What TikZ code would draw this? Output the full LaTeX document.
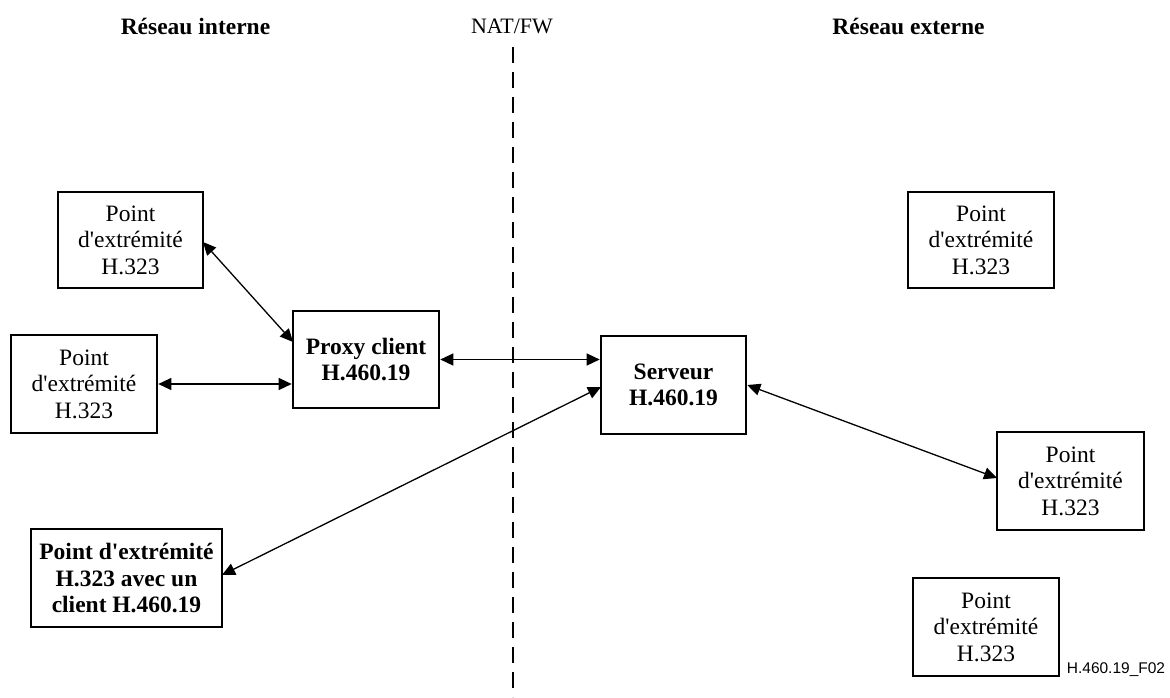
\documentclass[tikz,border=0pt]{standalone}
\usepackage{fontspec}
\setmainfont{Liberation Serif}[Ligatures=TeXOff]
\setsansfont{Liberation Sans}
\usetikzlibrary{arrows.meta}
\begin{document}
\begin{tikzpicture}[x=1pt,y=-1pt,
  box/.style={draw, line width=2.6pt, align=center, inner sep=0pt,
    font=\fontsize{23.5}{26.5}\selectfont},
  bbox/.style={box, font=\fontsize{23.5}{26.5}\selectfont\bfseries},
  conn/.style={line width=1.3pt, {Triangle[length=13pt,width=12pt]}-{Triangle[length=13pt,width=12pt]}},
  title/.style={font=\fontsize{23.5}{26}\selectfont\bfseries, inner sep=0pt}]
\useasboundingbox (0,0) rectangle (1170,697);
\node[title] (ti) at (195.5,26) {Réseau interne};
\node[title] (te) at (908.5,26) {Réseau externe};
\node[font=\fontsize{22}{24}\selectfont, inner sep=0pt] (nat) at (512,26) {NAT/FW};
\coordinate (dtop) at (513,47);
\coordinate (dbot) at (513,697);
\draw[line width=2.8pt, dash pattern=on 16pt off 9pt] (dtop) -- (dbot);

\node[box, minimum width=145pt, minimum height=96pt] (ep1) at (130.5,240) {Point\\d'extrémité\\H.323};
\node[box, minimum width=146pt, minimum height=98pt] (ep2) at (84,384) {Point\\d'extrémité\\H.323};
\node[bbox, minimum width=146pt, minimum height=97pt] (proxy) at (366,359.5) {Proxy client\\H.460.19};
\node[bbox, minimum width=191pt, minimum height=98pt] (bl) at (126.5,578) {Point d'extrémité\\H.323 avec un\\client H.460.19};
\node[bbox, minimum width=145pt, minimum height=98pt] (srv) at (673.5,385) {Serveur\\H.460.19};
\node[box, minimum width=146pt, minimum height=96pt] (er1) at (981,240) {Point\\d'extrémité\\H.323};
\node[box, minimum width=147pt, minimum height=98pt] (er2) at (1070.5,481) {Point\\d'extrémité\\H.323};
\node[box, minimum width=146pt, minimum height=98pt] (er3) at (986,627) {Point\\d'extrémité\\H.323};
\node[font=\sffamily\fontsize{15.5}{17}\selectfont, inner sep=0pt] (fid) at (1116,670) {H.460.19\_F02};

\coordinate (a1) at (203,242);
\coordinate (a2) at (293,342);
\draw[conn] (a1) -- (a2);
\draw[conn] (ep2.east) -- (proxy.west |- ep2.east);
\draw[conn] (proxy.east) -- (srv.west |- proxy.east);
\coordinate (b1) at (222,575);
\coordinate (b2) at (601,387);
\draw[conn] (b1) -- (b2);
\coordinate (c2) at (997,478);
\draw[conn] (srv.east) -- (c2);
\end{tikzpicture}
\end{document}
